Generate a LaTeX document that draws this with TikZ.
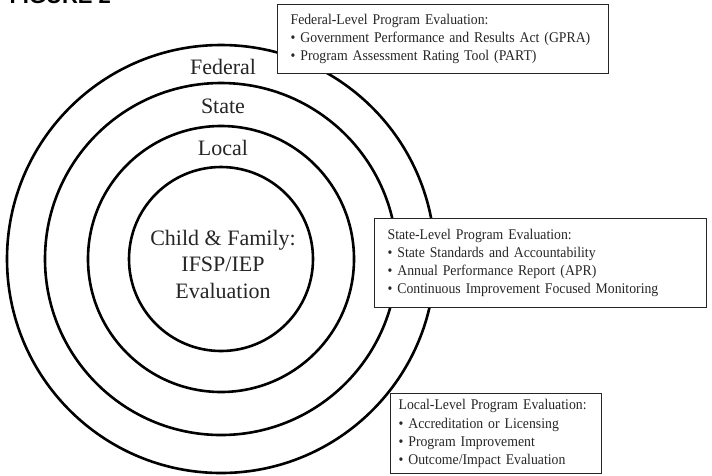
\documentclass[tikz,border=0pt]{standalone}
\usepackage{fontspec}
\setmainfont{Liberation Serif}
\setsansfont{Liberation Sans}
\newfontfamily\boxfont{Liberation Serif}[FakeStretch=0.93]
\usetikzlibrary{positioning}

\begin{document}
\begin{tikzpicture}[x=1pt, y=-1pt, line cap=round]
  \tikzset{ring/.style={draw=black, line width=2.6pt},
           level/.style={font=\fontsize{22}{24}\selectfont, text=black!85},
           evalbox/.style={draw=black!85, fill=white, line width=1.2pt, anchor=north west,
             inner xsep=13pt, align=left, font=\boxfont\fontsize{14.8}{18.2}\selectfont, text=black!85}}
  \clip (0,0) rectangle (712,475);
  \fill[white] (0,0) rectangle (712,475);
  % titel (afgesneden)
  \node[font=\sffamily\bfseries\fontsize{22}{24}\selectfont, anchor=base west] (fig) at (6,3) {FIGURE 2};
  % cirkels
  \coordinate (ctr) at (221,259);
  \foreach \r in {214,176,133,92}
    \draw[ring] (ctr) circle (\r pt);
  % niveaus
  \node[level] (federal) at (223,67) {Federal};
  \node[level] (state) at (223,106) {State};
  \node[level] (local) at (223,148) {Local};
  \node[align=center, font=\fontsize{22}{26.5}\selectfont, text=black!85] (child) at (223,264)
    {Child \& Family:\\IFSP/IEP\\Evaluation};
  % kaders
  \node[evalbox, minimum height=69pt, text width=305pt] (fedbox) at (277,4)
    {Federal-Level Program Evaluation:\\
     \textbullet\ Government Performance and Results Act (GPRA)\\
     \textbullet\ Program Assessment Rating Tool (PART)};
  \node[evalbox, minimum height=89pt, text width=306pt] (statebox) at (374,218)
    {State-Level Program Evaluation:\\
     \textbullet\ State Standards and Accountability\\
     \textbullet\ Annual Performance Report (APR)\\
     \textbullet\ Continuous Improvement Focused Monitoring};
  \node[evalbox, minimum height=80pt, text width=195pt, inner xsep=8pt] (localbox) at (390,393)
    {Local-Level Program Evaluation:\\
     \textbullet\ Accreditation or Licensing\\
     \textbullet\ Program Improvement\\
     \textbullet\ Outcome/Impact Evaluation};
\end{tikzpicture}
\end{document}
